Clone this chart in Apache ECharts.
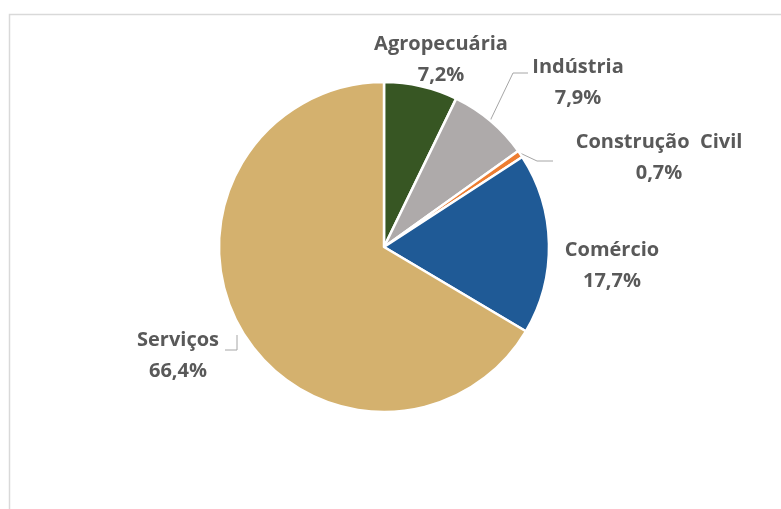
<!DOCTYPE html>
<html>
<head>
<meta charset="utf-8">
<script src="https://cdn.jsdelivr.net/npm/echarts@6/dist/echarts.min.js"></script>
<style>html,body{margin:0;padding:0;background:#fff}#c{width:781px;height:509px}</style>
</head>
<body>
<div id="c"></div>
<script>
const categories = ['Agropecuária', 'Indústria', 'Construção  Civil', 'Comércio', 'Serviços'];
const values = [7.2, 7.9, 0.7, 17.7, 66.4];
const valueLabels = ['7,2%', '7,9%', '0,7%', '17,7%', '66,4%'];
const colors = ['#375623', '#AEAAAA', '#ED7D31', '#1F5A96', '#D4B16E'];

// label layout (centers of label blocks) and leader lines
const labelPos = [[441, 60], [578, 83], [659, 158], [612, 266], [178, 356]];
const leader = [
  null,
  [[490, 121], [513, 73], [528, 73]],
  [[520, 153], [537, 161], [553, 161]],
  null,
  [[237, 335], [237, 350], [225, 350]]
];

const chart = echarts.init(document.getElementById('c'), null, {renderer: 'canvas'});
chart.setOption({
  animation: false,
  backgroundColor: '#fff',
  graphic: [{
    type: 'rect', silent: true,
    shape: {x: 9.5, y: 14.5, width: 900, height: 700},
    style: {fill: 'none', stroke: '#D9D9D9', lineWidth: 1.5}
  }],
  series: [{
    type: 'pie',
    center: [384, 247],
    radius: 165,
    startAngle: 90,
    clockwise: true,
    avoidLabelOverlap: false,
    itemStyle: {borderColor: '#fff', borderWidth: 2.5},
    label: {
      show: true,
      position: 'outside',
      formatter: p => p.name + '\n' + valueLabels[p.dataIndex],
      fontFamily: 'Open Sans',
      fontWeight: 'bold',
      fontSize: 20,
      lineHeight: 31,
      color: '#595959',
      align: 'center'
    },
    labelLine: {show: true, lineStyle: {color: '#A6A6A6', width: 1}},
    labelLayout: function (p) {
      const i = p.dataIndex;
      const r = {x: labelPos[i][0], y: labelPos[i][1], align: 'center', verticalAlign: 'middle'};
      if (leader[i]) r.labelLinePoints = leader[i];
      else r.labelLinePoints = [[0, 0], [0, 0], [0, 0]];
      return r;
    },
    data: categories.map((c, i) => ({
      name: c, value: values[i],
      itemStyle: {color: colors[i]},
      labelLine: {show: !!leader[i]}
    }))
  }]
});
</script>
</body>
</html>
